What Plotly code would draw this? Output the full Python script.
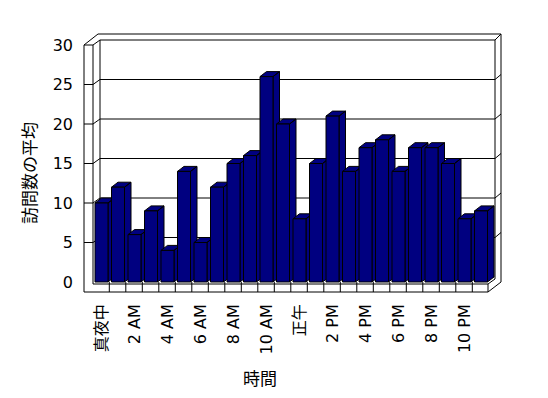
import plotly.graph_objects as go

# ---- data ----
hours = ["真夜中", "1 AM", "2 AM", "3 AM", "4 AM", "5 AM", "6 AM", "7 AM",
         "8 AM", "9 AM", "10 AM", "11 AM", "正午", "1 PM", "2 PM", "3 PM",
         "4 PM", "5 PM", "6 PM", "7 PM", "8 PM", "9 PM", "10 PM", "11 PM"]
visits = [10, 12, 6, 9, 4, 14, 5, 12, 15, 16, 26, 20,
          8, 15, 21, 14, 17, 18, 14, 17, 17, 15, 8, 9]
y_ticks = [0, 5, 10, 15, 20, 25, 30]
x_title = "時間"
y_title = "訪問数の平均"

# ---- pixel geometry helpers (layout only) ----
W, H = 548, 398
PL, PR, PT, PB = 78, 508, 28, 298       # plot area in px
CAT = 16.5                              # px per category
X0PX = 101.5                            # px of category 0 centre
UNIT = 7.9                              # px per value unit
Y0PX = 282                              # px of value 0


def X(px):
    return (px - X0PX) / CAT


def V(py):
    return (Y0PX - py) / UNIT


def Yf(v):
    return Y0PX - UNIT * v


def path(pts):
    return "M " + " L ".join(f"{X(a):.4f},{V(b):.4f}" for a, b in pts)


idx = list(range(len(hours)))
bw = 13 / CAT
ddx = 6.5 / CAT
ddy = 5 / UNIT

fig = go.Figure()

# side + top faces of each column (drawn beneath the front faces)
for k, v in zip(idx, visits):
    L, R = k - bw / 2, k + bw / 2
    xs = [L, R, R + ddx, L + ddx, L, None, R, R, R + ddx, R + ddx, R]
    ys = [v, v, v + ddy, v + ddy, v, None, 0, v, v + ddy, ddy, 0]
    fig.add_trace(go.Scatter(x=xs, y=ys, mode="lines", fill="toself",
                             fillcolor="#000080",
                             line=dict(color="black", width=1),
                             hoverinfo="skip", zorder=0))

# front faces
fig.add_trace(go.Bar(x=idx, y=visits, width=bw,
                     marker=dict(color="#000080",
                                 line=dict(color="black", width=1)),
                     zorder=1))

shapes = []
line = dict(color="black", width=1)


def add(pts, closed=False):
    d = path(pts) + (" Z" if closed else "")
    shapes.append(dict(type="path", path=d, xref="x", yref="y",
                       line=line, layer="below"))


# back wall gridlines (with ticks on left wall face and right edge)
for v in y_ticks[1:-1]:
    yf = Yf(v)
    yb = yf - 5
    add([(84, yf), (93, yf), (100, yb), (495, yb), (501, yb - 5)])

# top edges
add([(84, Yf(30)), (98, Yf(30) - 11), (501, Yf(30) - 11)])
add([(84, Yf(30)), (93, Yf(30)), (100, Yf(30) - 5), (495, Yf(30) - 5),
     (501, Yf(30) - 11)])
# left wall front face
add([(84, Yf(30)), (84, 292)])
add([(93, Yf(30)), (93, 284)])
# back wall inner left edge
add([(100, Yf(30) - 5), (100, 278)])
# right edges
add([(495, Yf(30) - 5), (495, 279)])
add([(501, Yf(30) - 11), (501, 282)])
# floor
add([(84, 292), (488, 292), (501, 282)])
add([(93, 284), (488, 284), (495, 279)])
add([(488, 284), (488, 292)])
for k in range(1, len(hours)):
    xp = 92.8 + CAT * k
    add([(xp, 282), (xp, 292)])

fig.update_layout(shapes=shapes)

font_main = "DejaVu Sans, Noto Sans CJK JP, sans-serif"
font_cjk = "Noto Sans CJK JP, DejaVu Sans, sans-serif"

fig.update_layout(
    width=W, height=H,
    margin=dict(l=PL, r=W - PR, t=PT, b=H - PB, pad=0),
    paper_bgcolor="white", plot_bgcolor="white",
    showlegend=False, barmode="overlay",
    font=dict(family=font_main, color="black", size=15),
    xaxis=dict(range=[X(PL), X(PR)], showgrid=False, zeroline=False,
               showline=False, tickmode="array", tickvals=idx[::2],
               ticktext=hours[::2], tickangle=-90, ticks="",
               ticklabelstandoff=2,
               tickfont=dict(size=16, family=font_main, color="#000000")),
    yaxis=dict(range=[V(PB), V(PT)], showgrid=False, zeroline=False,
               showline=False, tickmode="array", tickvals=y_ticks,
               ticks="", ticklabelstandoff=4,
               tickfont=dict(size=16, family=font_main, color="#000000")),
    annotations=[
        dict(text=x_title, x=(260 - PL) / (PR - PL), y=(PB - 377) / (PB - PT),
             xref="paper", yref="paper", showarrow=False,
             xanchor="center", yanchor="middle",
             font=dict(size=17, family=font_cjk, color="black")),
        dict(text=y_title, x=(29 - PL) / (PR - PL), y=(PB - 173) / (PB - PT),
             xref="paper", yref="paper", showarrow=False, textangle=-90,
             xanchor="center", yanchor="middle",
             font=dict(size=17, family=font_cjk, color="black")),
    ],
)

fig.write_html("out.html")
